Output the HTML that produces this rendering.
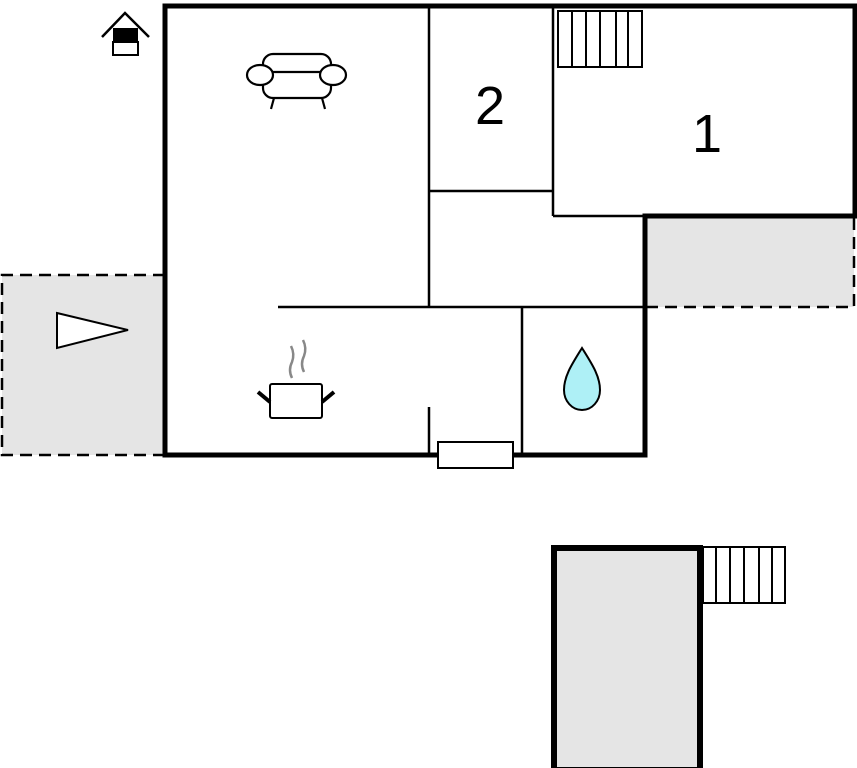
<!DOCTYPE html>
<html><head><style>html,body{margin:0;padding:0;background:#fff;width:857px;height:768px;overflow:hidden}</style></head>
<body>
<svg width="857" height="768" viewBox="0 0 857 768" xmlns="http://www.w3.org/2000/svg">
<!-- terraces -->
<rect x="2" y="275" width="163" height="180" fill="#e5e5e5"/>
<path d="M165 275 H2 V455 H165" fill="none" stroke="#000" stroke-width="2.5" stroke-dasharray="12,7"/>
<polygon points="57,313 128,330 57,348" fill="#fff" stroke="#000" stroke-width="2"/>
<rect x="647" y="218" width="207" height="89" fill="#e5e5e5"/>
<path d="M854 218 V307 H647" fill="none" stroke="#000" stroke-width="2.5" stroke-dasharray="12,7"/>
<!-- thin walls -->
<g stroke="#000" stroke-width="2.5" fill="none">
<line x1="429" y1="6" x2="429" y2="307"/>
<line x1="429" y1="191" x2="553" y2="191"/>
<line x1="553" y1="6" x2="553" y2="216"/>
<line x1="553" y1="216" x2="645" y2="216"/>
<line x1="278" y1="307" x2="645" y2="307"/>
<line x1="522" y1="307" x2="522" y2="455"/>
<line x1="429" y1="407" x2="429" y2="455"/>
</g>
<!-- thick outline -->
<path d="M165 455 V6 H855 V216 H645 V455 Z" fill="none" stroke="#000" stroke-width="5"/>
<rect x="438" y="442" width="75" height="26" fill="#fff" stroke="#000" stroke-width="2"/>
<!-- stairs top -->
<g stroke="#000" stroke-width="2" fill="#fff">
<rect x="558" y="11" width="84" height="56"/>
<line x1="572" y1="11" x2="572" y2="67"/><line x1="586" y1="11" x2="586" y2="67"/><line x1="600" y1="11" x2="600" y2="67"/><line x1="616" y1="11" x2="616" y2="67"/><line x1="628" y1="11" x2="628" y2="67"/>
</g>
<text x="490" y="124" font-family="Liberation Sans, sans-serif" font-size="54" text-anchor="middle">2</text>
<text x="707" y="152" font-family="Liberation Sans, sans-serif" font-size="54" text-anchor="middle">1</text>
<!-- home icon -->
<path d="M102 37 L125 13 L149 37" fill="none" stroke="#000" stroke-width="2.5"/>
<rect x="113" y="28" width="25" height="14" fill="#000"/>
<rect x="113" y="42" width="25" height="13" fill="#fff" stroke="#000" stroke-width="2"/>
<!-- sofa -->
<g stroke="#000" stroke-width="2.2" fill="#fff">
<rect x="263" y="54" width="68" height="28" rx="10"/>
<rect x="263" y="72" width="68" height="26" rx="10"/>
<ellipse cx="260" cy="75" rx="13" ry="10"/>
<ellipse cx="333" cy="75" rx="13" ry="10"/>
<line x1="274" y1="98" x2="271" y2="109"/><line x1="322" y1="98" x2="325" y2="109"/>
</g>
<!-- pot -->
<path d="M292 378 q-4 -8 0 -16 q3 -8 -1 -16" fill="none" stroke="#888" stroke-width="2.5"/>
<path d="M304 372 q-4 -8 0 -16 q3 -8 -1 -16" fill="none" stroke="#888" stroke-width="2.5"/>
<rect x="270" y="384" width="52" height="34" rx="2" fill="#fff" stroke="#000" stroke-width="2"/>
<line x1="258" y1="392" x2="270" y2="402" stroke="#000" stroke-width="4"/>
<line x1="334" y1="392" x2="322" y2="402" stroke="#000" stroke-width="4"/>
<!-- drop -->
<path d="M582 348 C572 364 564 376 564 390 C564 401 572 410 582 410 C592 410 600 401 600 390 C600 376 592 364 582 348 Z" fill="#aef0f6" stroke="#000" stroke-width="2"/>
<!-- lower building -->
<rect x="554" y="548" width="146" height="222" fill="#e5e5e5" stroke="#000" stroke-width="6"/>
<g stroke="#000" stroke-width="2" fill="#fff">
<rect x="703" y="547" width="82" height="56"/>
<line x1="716" y1="547" x2="716" y2="603"/><line x1="730" y1="547" x2="730" y2="603"/><line x1="744" y1="547" x2="744" y2="603"/><line x1="759" y1="547" x2="759" y2="603"/><line x1="772" y1="547" x2="772" y2="603"/>
</g>
</svg>
</body></html>
